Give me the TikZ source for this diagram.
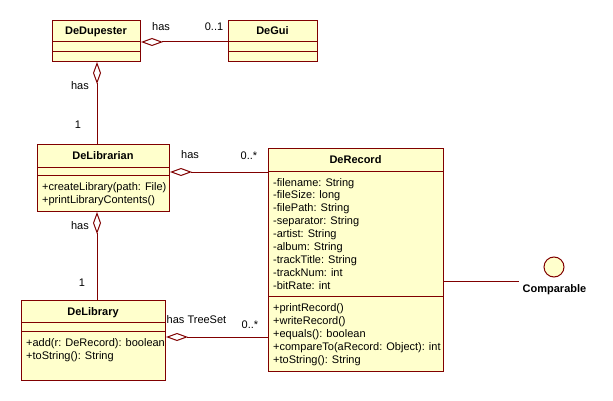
\documentclass[tikz,border=0pt]{standalone}
\usepackage{fontspec}
\setmainfont{Liberation Sans}
\usetikzlibrary{arrows.meta}
\definecolor{umlline}{RGB}{128,0,0}
\definecolor{umlfill}{RGB}{255,255,204}
\begin{document}
\begin{tikzpicture}[x=1pt,y=-1pt,
  every node/.style={font=\fontsize{11}{13}\selectfont, inner sep=0pt},
  classbox/.style={draw=umlline, fill=umlfill, line width=1pt, rectangle, anchor=north west},
  divider/.style={draw=umlline, line width=1pt},
  cname/.style={anchor=base, font=\fontsize{11}{13}\selectfont\bfseries},
  member/.style={anchor=base west},
  lbl/.style={anchor=base},
  assoc/.style={draw=umlline, line width=1pt},
  agg/.style={assoc, {Diamond[length=22pt,width=8pt,fill=white]}-}
]
\useasboundingbox (0,0) rectangle (613,401);

% class boxes
\node[classbox, minimum width=88pt,  minimum height=41pt]  (dup)  at (52,20)  {};
\node[classbox, minimum width=89pt,  minimum height=41pt]  (gui)  at (228,20) {};
\node[classbox, minimum width=132pt, minimum height=67pt]  (lian) at (37,144)  {};
\node[classbox, minimum width=175pt, minimum height=223pt] (rec)  at (268,148) {};
\node[classbox, minimum width=144pt, minimum height=80pt]  (lib)  at (21,300)  {};

% compartment dividers
\draw[divider] (dup.west |- 0,42)  -- (dup.east |- 0,42);
\draw[divider] (dup.west |- 0,52)  -- (dup.east |- 0,52);
\draw[divider] (gui.west |- 0,42)  -- (gui.east |- 0,42);
\draw[divider] (gui.west |- 0,52)  -- (gui.east |- 0,52);
\draw[divider] (lian.west |- 0,167) -- (lian.east |- 0,167);
\draw[divider] (lian.west |- 0,175) -- (lian.east |- 0,175);
\draw[divider] (rec.west |- 0,171) -- (rec.east |- 0,171);
\draw[divider] (rec.west |- 0,296) -- (rec.east |- 0,296);
\draw[divider] (lib.west |- 0,322) -- (lib.east |- 0,322);
\draw[divider] (lib.west |- 0,331) -- (lib.east |- 0,331);

% class names
\node[cname] (dupname)  at (96,35)     {DeDupester};
\node[cname] (guiname)  at (272.5,35)  {DeGui};
\node[cname] (lianname) at (103,159.5) {DeLibrarian};
\node[cname] (recname)  at (355.5,163.5) {DeRecord};
\node[cname] (libname)  at (93,315)    {DeLibrary};

% members
\node[member] (lianm1) at (42,190) {+createLibrary(path: File)};
\node[member] (lianm2) at (42,203) {+printLibraryContents()};

\foreach \t [count=\i] in {-filename: String, -fileSize: long, -filePath: String,
    -separator: String, -artist: String, -album: String, -trackTitle: String,
    -trackNum: int, -bitRate: int}
  \node[member] (reca\i) at (273,{186+12.9*(\i-1)}) {\t};

\foreach \t [count=\i] in {+printRecord(), +writeRecord(), +equals(): boolean,
    +compareTo(aRecord: Object): int, +toString(): String}
  \node[member] (recm\i) at (273,{311+13*(\i-1)}) {\t};

\node[member] (libm1) at (26,346) {+add(r: DeRecord): boolean};
\node[member] (libm2) at (26,359) {+toString(): String};

% interface lollipop
\node[circle, draw=umlline, fill=umlfill, line width=1pt, minimum size=20pt] (cmp) at (554,267) {};
\node[cname, inner xsep=3.5pt] (cmplabel) at (554.5,292) {Comparable};

% associations
\draw[agg] (dup.east |- 0,42) -- (gui.west |- 0,42);
\draw[agg] (dup.south -| 97,0) -- (lian.north -| 97,0);
\draw[agg] (lian.east |- 0,172) -- (rec.west |- 0,172);
\draw[agg] (lian.south -| 97,0) -- (lib.north -| 97,0);
\draw[agg] (lib.east |- 0,337) -- (rec.west |- 0,337);
\draw[assoc] (rec.east |- 0,281) -- (cmplabel.west |- 0,281);

% association labels
\node[lbl] (l1)  at (161,31)    {has};
\node[lbl] (m1)  at (214,31)    {0..1};
\node[lbl] (l2)  at (80,90)     {has};
\node[lbl] (m2)  at (78,129)    {1};
\node[lbl] (l3)  at (190,159)   {has};
\node[lbl] (m3)  at (249,160)   {0..*};
\node[lbl] (l4)  at (80,229)    {has};
\node[lbl] (m4)  at (82,286)    {1};
\node[lbl] (l5)  at (196.5,323) {has TreeSet};
\node[lbl] (m5)  at (250,328)   {0..*};
\end{tikzpicture}
\end{document}
